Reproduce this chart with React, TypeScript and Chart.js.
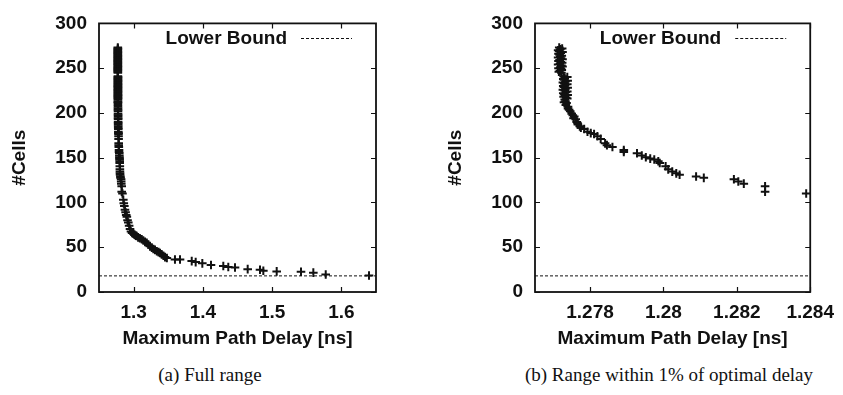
import React, { useEffect, useRef } from "react";
import { Chart, registerables } from "chart.js";

Chart.register(...registerables);

// ---- data ----
const delays: number[] = [
  1.27716, 1.27719, 1.27716, 1.2772, 1.27717, 1.27719, 1.27721, 1.27717, 1.2772, 1.27718, 1.27722, 1.27719, 1.27721, 1.27718, 1.27722,
  1.27724, 1.27713, 1.27725, 1.27714, 1.27723, 1.27713, 1.27725, 1.27714, 1.27724, 1.27713, 1.27725, 1.27714, 1.27723, 1.27715,
  1.27728, 1.27731, 1.27729, 1.27733, 1.2773, 1.27732, 1.27729, 1.27733, 1.27731, 1.27734, 1.2773, 1.27732, 1.27735, 1.27731, 1.27733, 1.27736, 1.27734,
  1.27738, 1.27727, 1.27739, 1.27726, 1.27738, 1.27727, 1.27739, 1.27726, 1.27738, 1.27727, 1.27739, 1.27728, 1.27738, 1.27729, 1.2774,
  1.2774, 1.27746, 1.2775, 1.27757, 1.27761, 1.27764, 1.27767, 1.27772, 1.27784, 1.27793, 1.27811, 1.2782, 1.27829, 1.27841, 1.27846, 1.27861,
  1.27743, 1.27753, 1.27755, 1.27766, 1.27775, 1.27802,
  1.27892, 1.27892, 1.27928, 1.27941, 1.27952, 1.27964, 1.27975, 1.27986, 1.2799, 1.28006, 1.28013, 1.28024, 1.28035, 1.28044, 1.28089, 1.2811,
  1.28192, 1.28204, 1.28219, 1.28277, 1.28277, 1.28389,
  1.2851, 1.2858, 1.2866, 1.2875, 1.2884, 1.2893, 1.2902, 1.2912, 1.2923, 1.2935, 1.2948, 1.2962, 1.2978, 1.2995, 1.3012, 1.303, 1.3044, 1.3065,
  1.309, 1.3117, 1.314, 1.3165, 1.3189, 1.3212, 1.3236, 1.3262, 1.3285, 1.3309, 1.3335, 1.336, 1.3381, 1.3405, 1.343, 1.3453, 1.348,
  1.3597, 1.367, 1.3839, 1.3896, 1.3992, 1.4117, 1.4295, 1.4367, 1.4464, 1.4647, 1.4825, 1.4873, 1.5066, 1.5417, 1.5595, 1.5774, 1.6399,
];
const cells: number[] = [
  273, 271, 269, 267, 265, 263, 261, 259, 257, 255, 253, 251, 249, 247, 245,
  272, 270, 268, 266, 264, 262, 260, 258, 256, 254, 252, 250, 248, 246,
  241, 239, 237, 235, 233, 231, 229, 227, 225, 223, 221, 219, 217, 215, 213, 211, 209,
  240, 238, 236, 234, 232, 230, 228, 226, 224, 222, 220, 218, 216, 212, 207,
  205, 202, 199, 196, 193, 190, 187, 185, 182, 179, 176.5, 174, 171, 166, 164, 162,
  203.5, 197.5, 194, 188.5, 183.5, 177.5,
  158.5, 156.5, 155, 152.5, 150.5, 149, 148, 146, 144, 140.5, 137, 134.5, 132.5, 131, 129, 127.5,
  126, 123.5, 121, 118, 112, 110,
  103, 99, 96, 92, 89, 86, 84, 80, 77.5, 74, 70.5, 67.5, 66, 65, 64, 63, 62.5, 61,
  60, 59, 57.5, 56, 55, 53, 51, 49.5, 48, 47, 45.5, 44.5, 43.5, 42, 40.5, 39, 38,
  36.3, 36.3, 34.5, 33.4, 32, 30.2, 29, 28, 27.3, 25.5, 24.8, 23.7, 23, 22.7, 21.6, 19.6, 18.4,
];
const lowerBound = 18;
const lowerBoundLabel = "Lower Bound";
const pointsLabel = "Solutions";

const yTicks: number[] = [0, 50, 100, 150, 200, 250, 300];
const xTicksFull: number[] = [1.3, 1.4, 1.5, 1.6];
const xTicksZoom: number[] = [1.278, 1.28, 1.282, 1.284];
const xRangeFull: number[] = [1.25, 1.65];
const xRangeZoom: number[] = [1.2765, 1.284];
const yRange: number[] = [0, 300];

const xTitle = "Maximum Path Delay [ns]";
const yTitle = "#Cells";
const captionA = "(a) Full range";
const captionB = "(b) Range within 1% of optimal delay";

// ---- styles ----
const INK = "#111111";
const SANS = "'Liberation Sans', Arial, sans-serif";
const SERIF = "'Liberation Serif', 'Times New Roman', serif";
const FONT = { family: SANS, size: 19, weight: "bold" as const };

const framePlugin = {
  id: "gnuplotFrame",
  afterDatasetsDraw(chart: any) {
    const { ctx, chartArea: a, scales } = chart;
    ctx.save();
    ctx.strokeStyle = INK;
    ctx.lineWidth = 1.2;
    const T = 5;
    ctx.beginPath();
    scales.x.ticks.forEach((t: any) => {
      const px = Math.round(scales.x.getPixelForValue(t.value)) + 0.5;
      ctx.moveTo(px, a.bottom);
      ctx.lineTo(px, a.bottom - T);
      ctx.moveTo(px, a.top);
      ctx.lineTo(px, a.top + T);
    });
    scales.y.ticks.forEach((t: any) => {
      const py = Math.round(scales.y.getPixelForValue(t.value)) + 0.5;
      ctx.moveTo(a.left, py);
      ctx.lineTo(a.left + T, py);
      ctx.moveTo(a.right, py);
      ctx.lineTo(a.right - T, py);
    });
    ctx.stroke();
    ctx.lineWidth = 1.8;
    ctx.strokeRect(a.left, a.top, a.right - a.left, a.bottom - a.top);

    // key (gnuplot style: text then sample)
    const ds = chart.data.datasets[1];
    const ky = a.top + 15;
    ctx.fillStyle = INK;
    ctx.font = `bold ${FONT.size}px ${SANS}`;
    ctx.textAlign = "right";
    ctx.textBaseline = "middle";
    ctx.fillText(ds.label, a.right - 89, ky);
    ctx.lineWidth = 1;
    ctx.setLineDash([3, 2]);
    ctx.beginPath();
    ctx.moveTo(a.right - 75, Math.round(ky) + 0.5);
    ctx.lineTo(a.right - 24, Math.round(ky) + 0.5);
    ctx.stroke();
    ctx.restore();
  },
};

function makeConfig(xRange: number[], xTicks: number[], padRight: number): any {
  const pts = delays.map((d, i) => ({ x: d, y: cells[i] }));
  return {
    type: "scatter",
    data: {
      datasets: [
        {
          label: pointsLabel,
          data: pts,
          pointStyle: "cross",
          pointRadius: 4.3,
          pointBorderWidth: 2,
          borderColor: INK,
          backgroundColor: INK,
          showLine: false,
        },
        {
          label: lowerBoundLabel,
          type: "line",
          data: [
            { x: xRange[0], y: lowerBound },
            { x: xRange[1], y: lowerBound },
          ],
          borderColor: INK,
          borderWidth: 1,
          borderDash: [3, 2],
          pointRadius: 0,
          fill: false,
        },
      ],
    },
    options: {
      animation: false,
      responsive: false,
      maintainAspectRatio: false,
      layout: { padding: { left: 0, right: padRight, top: 14, bottom: 2 } },
      plugins: { legend: { display: false }, tooltip: { enabled: false } },
      scales: {
        x: {
          type: "linear",
          min: xRange[0],
          max: xRange[1],
          grid: { display: false, drawTicks: false },
          border: { display: false },
          afterBuildTicks: (s: any) => {
            s.ticks = xTicks.map((v) => ({ value: v }));
          },
          afterFit: (s: any) => {
            s.height = 58;
          },
          ticks: {
            color: INK,
            font: FONT,
            padding: 9,
            maxRotation: 0,
            autoSkip: false,
            callback: (v: any) => String(Number(v)),
          },
          title: { display: true, text: xTitle, color: INK, font: FONT, padding: { top: 0, bottom: 0 } },
        },
        y: {
          type: "linear",
          min: yRange[0],
          max: yRange[1],
          grid: { display: false, drawTicks: false },
          border: { display: false },
          afterBuildTicks: (s: any) => {
            s.ticks = yTicks.map((v) => ({ value: v }));
          },
          afterFit: (s: any) => {
            s.width = 99;
          },
          ticks: { color: INK, font: FONT, padding: 12, autoSkip: false },
          title: { display: true, text: yTitle, color: INK, font: FONT, padding: { top: 8, bottom: 0 } },
        },
      },
    },
    plugins: [framePlugin],
  };
}

function Panel(props: { left: number; width: number; xRange: number[]; xTicks: number[]; padRight: number }) {
  const ref = useRef<HTMLCanvasElement | null>(null);
  useEffect(() => {
    if (!ref.current) return;
    const chart = new Chart(ref.current, makeConfig(props.xRange, props.xTicks, props.padRight));
    return () => chart.destroy();
  }, []);
  return (
    <canvas
      ref={ref}
      width={props.width}
      height={352}
      style={{ position: "absolute", left: props.left, top: 0, width: props.width, height: 352 }}
    />
  );
}

export default function App() {
  const cap: React.CSSProperties = {
    position: "absolute",
    top: 363,
    fontFamily: SERIF,
    fontSize: 19,
    lineHeight: "24px",
    color: INK,
    whiteSpace: "nowrap",
    transform: "translateX(-50%)",
  };
  return (
    <div style={{ position: "fixed", left: 0, top: 0, width: 843, height: 395, background: "#fff", overflow: "hidden" }}>
      <Panel left={0} width={436} xRange={xRangeFull} xTicks={xTicksFull} padRight={60} />
      <Panel left={436} width={407} xRange={xRangeZoom} xTicks={xTicksZoom} padRight={29} />
      <div style={{ ...cap, left: 210 }}>{captionA}</div>
      <div style={{ ...cap, left: 669 }}>{captionB}</div>
    </div>
  );
}
